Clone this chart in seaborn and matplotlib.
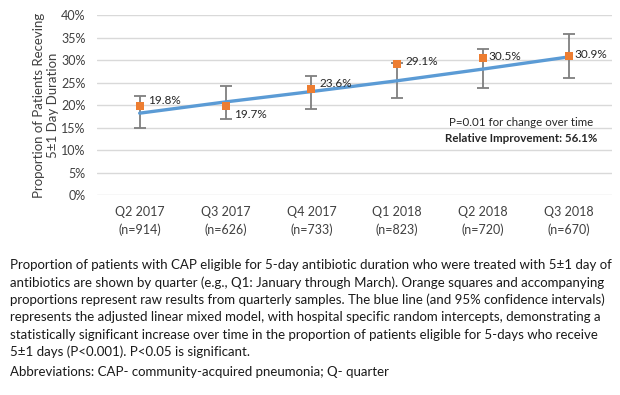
import matplotlib
matplotlib.use("Agg")
import matplotlib.pyplot as plt
import seaborn as sns
import pandas as pd
import numpy as np

quarters = ["Q2 2017", "Q3 2017", "Q4 2017", "Q1 2018", "Q2 2018", "Q3 2018"]
n_counts = [914, 626, 733, 823, 720, 670]
raw_pct = [19.8, 19.7, 23.6, 29.1, 30.5, 30.9]
model_pct = [18.2, 20.7, 23.0, 25.4, 28.0, 30.7]
ci_low = [15.0, 17.0, 19.2, 21.5, 23.7, 26.1]
ci_high = [22.0, 24.2, 26.5, 29.3, 32.4, 35.8]
label_offsets = [(6, 4), (6, -6), (6, 4), (6, 2), (4, 1), (4, 1)]
yticks = [0, 5, 10, 15, 20, 25, 30, 35, 40]

caption_lines = [
    "Proportion of patients with CAP eligible for 5-day antibiotic duration who were treated with 5\u00b11 day of",
    "antibiotics are shown by quarter (e.g., Q1: January through March). Orange squares and accompanying",
    "proportions represent raw results from quarterly samples. The blue line (and 95% confidence intervals)",
    "represents the adjusted linear mixed model, with hospital specific random intercepts, demonstrating a",
    "statistically significant increase over time in the proportion of patients eligible for 5-days who receive",
    "5\u00b11 days (P<0.001). P<0.05 is significant.",
]
abbrev = "Abbreviations: CAP- community-acquired pneumonia; Q- quarter"

sns.set_theme(style="white")
plt.rcParams["font.family"] = ["Lato", "DejaVu Sans"]

df = pd.DataFrame({"pos": np.arange(len(quarters)), "raw": raw_pct,
                   "model": model_pct, "lo": ci_low, "hi": ci_high})

W, H = 620, 395
fig = plt.figure(figsize=(W / 100, H / 100), dpi=100)
ax = fig.add_axes([0.156, 0.506, 0.831, 0.456])

BLUE = "#5B9BD5"
ORANGE = "#ED7D31"
GRAY = "#7F7F7F"
TXT = "#404040"

ax.errorbar(df["pos"], df["model"],
            yerr=[df["model"] - df["lo"], df["hi"] - df["model"]],
            fmt="none", ecolor=GRAY, elinewidth=1.3, capsize=4, capthick=1.3, zorder=2)
sns.lineplot(data=df, x="pos", y="model", color=BLUE, linewidth=2.4, ax=ax, zorder=3)
sns.scatterplot(data=df, x="pos", y="raw", marker="s", s=38, color=ORANGE,
                edgecolor=ORANGE, linewidth=0, ax=ax, zorder=4)

for x, v, off in zip(df["pos"], raw_pct, label_offsets):
    ax.annotate(f"{v:.1f}%", (x, v), xytext=off, textcoords="offset points",
                ha="left", va="center", fontsize=8.5, color="#262626")

ax.set_xlim(-0.5, len(quarters) - 0.5)
ax.set_ylim(0, 40)
ax.set_yticks(yticks)
ax.set_yticklabels([f"{t}%" for t in yticks], fontsize=9, color=TXT)
ax.set_xticks(df["pos"])
ax.set_xticklabels([f"{q}\n(n={n})" for q, n in zip(quarters, n_counts)],
                   fontsize=9, color=TXT, linespacing=1.45)
ax.tick_params(axis="both", length=0, pad=8)
ax.tick_params(axis="y", pad=8)
ax.grid(axis="y", color="#D9D9D9", linewidth=1)
ax.set_axisbelow(True)
for s in ax.spines.values():
    s.set_visible(False)
ax.set_xlabel("")
ax.set_ylabel("Proportion of Patients Receving\n5\u00b11 Day Duration", fontsize=9.5,
              color=TXT, linespacing=1.2)
ax.yaxis.set_label_coords(-0.074, 0.5)

ax.text(4.44, 16.1, "P=0.01 for change over time", ha="center", va="center",
        fontsize=8.3, color="#262626")
ax.text(4.44, 12.6, "Relative Improvement: 56.1%", ha="center", va="center",
        fontsize=8.3, fontweight="bold", color="#262626")

# caption: fit the first line to the reference width
renderer = fig.canvas.get_renderer()
probe = fig.text(0, 0, caption_lines[0], fontsize=10)
w = probe.get_window_extent(renderer).width
probe.remove()
cap_size = 10 * 605 / w

y0 = 1 - 265 / H
step = 17.4 / H
for i, line in enumerate(caption_lines):
    fig.text(10 / W, y0 - i * step, line, ha="left", va="center",
             fontsize=cap_size, color="#1a1a1a")
fig.text(10 / W, 1 - 371.7 / H, abbrev, ha="left", va="center",
         fontsize=cap_size, color="#1a1a1a")

fig.savefig("out.png", dpi=100, facecolor="white")
